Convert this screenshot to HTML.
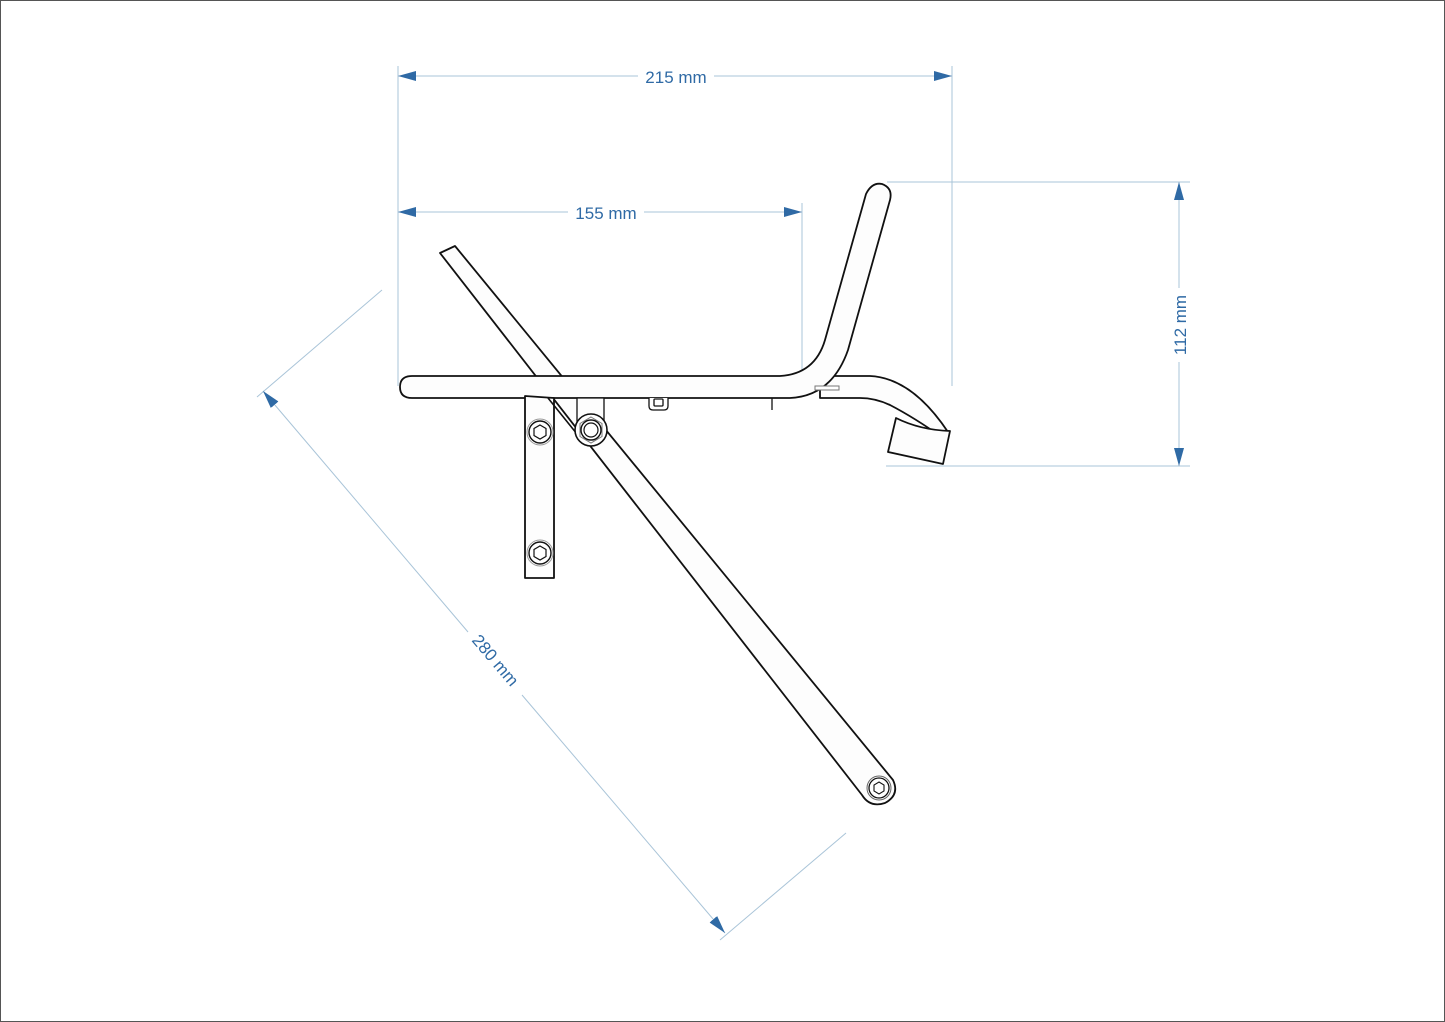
<!DOCTYPE html>
<html><head><meta charset="utf-8"><style>
html,body{margin:0;padding:0;background:#fff;}
svg{display:block;}
text{font-family:"Liberation Sans",sans-serif;font-size:17px;fill:#2f6aa5;}
</style></head><body>
<svg width="1445" height="1022" viewBox="0 0 1445 1022" xmlns="http://www.w3.org/2000/svg">
<rect x="0.5" y="0.5" width="1444" height="1021" fill="#fff" stroke="#555" stroke-width="1"/>
<defs>
<marker id="ar" viewBox="0 0 18 10" refX="18" refY="5" markerWidth="18" markerHeight="10" markerUnits="userSpaceOnUse" orient="auto-start-reverse">
<path d="M0,0 L18,5 L0,10 z" fill="#2f6aa5"/>
</marker>
</defs>
<g stroke="#a9c4d8" stroke-width="1" fill="none">
<line x1="398" y1="66" x2="398" y2="386"/>
<line x1="952" y1="66" x2="952" y2="386"/>
<line x1="802" y1="203" x2="802" y2="372"/>
<line x1="887" y1="182" x2="1190" y2="182"/>
<line x1="886" y1="466" x2="1190" y2="466"/>
<line x1="382" y1="290" x2="257" y2="397"/>
<line x1="846" y1="833" x2="720" y2="940"/>
<line x1="398" y1="76" x2="638" y2="76" marker-start="url(#ar)"/>
<line x1="714" y1="76" x2="952" y2="76" marker-end="url(#ar)"/>
<line x1="398" y1="212" x2="568" y2="212" marker-start="url(#ar)"/>
<line x1="644" y1="212" x2="802" y2="212" marker-end="url(#ar)"/>
<line x1="1179" y1="182" x2="1179" y2="288" marker-start="url(#ar)"/>
<line x1="1179" y1="362" x2="1179" y2="466" marker-end="url(#ar)"/>
<line x1="263" y1="391" x2="468" y2="632" marker-start="url(#ar)"/>
<line x1="522" y1="695" x2="725" y2="933" marker-end="url(#ar)"/>
</g>
<text x="676" y="83" text-anchor="middle">215 mm</text>
<text x="606" y="219" text-anchor="middle">155 mm</text>
<text transform="translate(1186,325) rotate(-90)" text-anchor="middle">112 mm</text>
<text transform="translate(491,664) rotate(49.6)" text-anchor="middle">280 mm</text>

<g stroke="#111" stroke-width="1.8" fill="#fdfdfd" stroke-linejoin="round">
<path d="M440,253 L455,246 L893,780 Q900,795 885,803 Q870,808 862,795 Z"/>
<path d="M820,376 L870,376 Q912,378 948,432 L943,438 Q915,418 890,405 Q875,398 860,398 L820,398 Z"/>
<path d="M896,418 Q920,430 950,431 L943,464 L888,452 Z"/>
<path d="M412,376 L780,376 Q815,374 825,340 L866,194 Q872,182 882,184 Q893,188 890,200 L848,350 Q832,396 790,398 L412,398 Q400,398 400,387 Q400,376 412,376 Z"/>
<path d="M525,396 L554,398 L554,578 L525,578 Z"/>
<path d="M577,398 L604,398 L604,430 L577,430 Z" stroke-width="1.3"/>
</g>
<g stroke="#111" stroke-width="1.6" fill="none">
<line x1="548" y1="398" x2="577" y2="434"/>
</g>
<g stroke="#111" fill="#fff">
<circle cx="540" cy="432" r="13" stroke="#999" stroke-width="1"/>
<circle cx="540" cy="432" r="11" stroke-width="1.4"/>
<polygon points="540,425 546,428.5 546,435.5 540,439 534,435.5 534,428.5" stroke-width="1.2"/>
<circle cx="540" cy="553" r="13" stroke="#999" stroke-width="1"/>
<circle cx="540" cy="553" r="11" stroke-width="1.4"/>
<polygon points="540,546 546,549.5 546,556.5 540,560 534,556.5 534,549.5" stroke-width="1.2"/>
<circle cx="591" cy="430" r="16" stroke-width="1.6"/>
<polygon points="591,417 602,423.5 602,436.5 591,443 580,436.5 580,423.5" stroke="#777" stroke-width="1"/>
<circle cx="591" cy="430" r="10" stroke-width="1.4"/>
<circle cx="591" cy="430" r="7" stroke-width="1.2"/>
<circle cx="879" cy="788" r="12" stroke="#666" stroke-width="1"/>
<circle cx="879" cy="788" r="10" stroke-width="1.3"/>
<polygon points="879,782 884,785 884,791 879,794 874,791 874,785" stroke-width="1.1"/>
</g>
<g stroke="#111" fill="#fff" stroke-width="1.3">
<path d="M649,398 L649,406 Q649,410 653,410 L664,410 Q668,410 668,406 L668,398"/>
<rect x="654" y="399" width="9" height="7" rx="1"/>
<line x1="772" y1="398" x2="772" y2="410"/>
<rect x="815" y="386" width="24" height="4" stroke="#777" stroke-width="1"/>
</g>
</svg>
</body></html>
